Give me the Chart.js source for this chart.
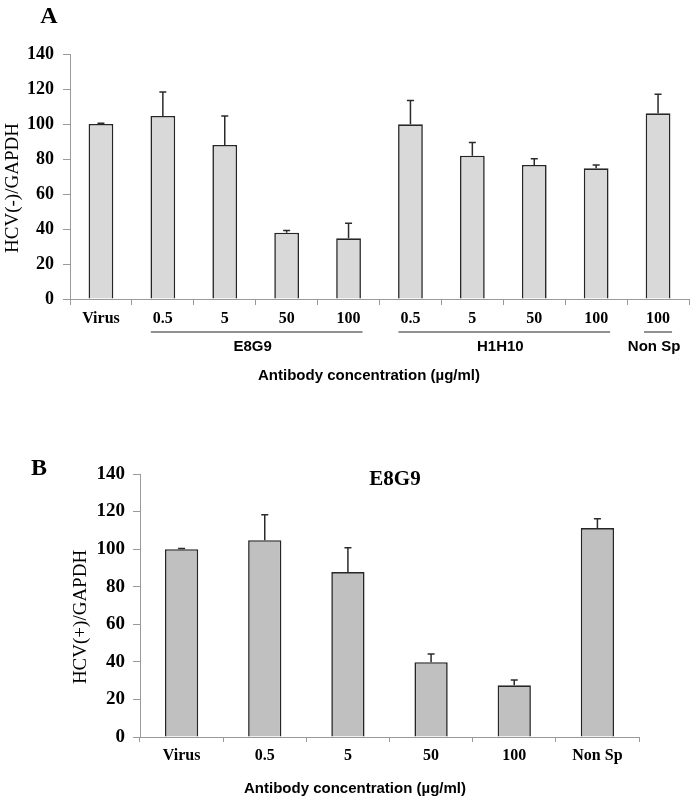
<!DOCTYPE html>
<html>
<head>
<meta charset="utf-8">
<script src="https://cdn.jsdelivr.net/npm/chart.js@4.4.0/dist/chart.umd.min.js"></script>
<style>
    body { margin: 0; background: #fff; }
    #wrap { position: relative; width: 694px; height: 802px; }
    canvas { position: absolute; left: 0; }
    #chartA { top: 0; }
    #chartB { top: 400px; }
</style>
</head>
<body>
<div id="wrap">
    <canvas id="chartA" width="694" height="400"></canvas>
    <canvas id="chartB" width="694" height="402"></canvas>
</div>
<script>
// Panel A: HCV(-)/GAPDH
const labelsA = ['Virus', '0.5', '5', '50', '100', '0.5', '5', '50', '100', '100'];
const valuesA = [100, 104.6, 88, 37.9, 34.7, 99.8, 81.9, 76.6, 74.7, 106.1];
const errorsA = [0.4, 13.7, 16.6, 1.2, 8.6, 13.7, 7.6, 3.6, 1.9, 10.9];
const groupNamesA = ['E8G9', 'H1H10', 'Non Sp'];
const groupStartA = [1, 5, 9];
const groupEndA = [4, 8, 9];

// Panel B: HCV(+)/GAPDH, E8G9 only
const labelsB = ['Virus', '0.5', '5', '50', '100', 'Non Sp'];
const valuesB = [100, 104.8, 87.8, 39.8, 27.5, 111.2];
const errorsB = [0.3, 13.5, 12.9, 4.4, 2.8, 5];

const yTicks = [0, 20, 40, 60, 80, 100, 120, 140];

const SERIF = '"Liberation Serif", "Times New Roman", serif';
const SANS = '"Liberation Sans", Arial, sans-serif';

// upward error bars with a cap
const errorBars = {
    id: 'errorBars',
    afterDatasetsDraw(chart) {
        const ctx = chart.ctx;
        const y = chart.scales.y;
        chart.data.datasets.forEach((ds, di) => {
            const meta = chart.getDatasetMeta(di);
            meta.data.forEach((bar, i) => {
                const top = y.getPixelForValue(ds.data[i]);
                const end = y.getPixelForValue(ds.data[i] + ds.errors[i]);
                ctx.save();
                ctx.strokeStyle = '#2b2b2b';
                ctx.lineWidth = 1.5;
                ctx.beginPath();
                ctx.moveTo(bar.x, top);
                ctx.lineTo(bar.x, end);
                ctx.moveTo(bar.x - 3.5, end);
                ctx.lineTo(bar.x + 3.5, end);
                ctx.stroke();
                ctx.restore();
            });
        });
    }
};

// panel letter, axis titles, group labels
const decor = {
    id: 'decor',
    afterDraw(chart, args, o) {
        const ctx = chart.ctx;
        const x = chart.scales.x;
        ctx.save();
        ctx.fillStyle = '#000';
        ctx.textAlign = 'center';
        ctx.textBaseline = 'middle';

        ctx.font = 'bold 24px ' + SERIF;
        ctx.fillText(o.letter, o.letterX, o.letterY);

        if (o.title) {
            ctx.font = 'bold 21px ' + SERIF;
            ctx.fillText(o.title, o.titleX, o.titleY);
        }

        ctx.save();
        ctx.translate(o.yTitleX, o.yTitleY);
        ctx.rotate(-Math.PI / 2);
        ctx.font = '19px ' + SERIF;
        ctx.fillText(o.yTitle, 0, 0);
        ctx.restore();

        ctx.font = 'bold 15px ' + SANS;
        ctx.fillText('Antibody concentration (\u00b5g/ml)', o.xTitleX, o.xTitleY);

        if (o.groups) {
            const labels = chart.data.labels;
            o.groups.names.forEach((name, g) => {
                const a = o.groups.start[g];
                const b = o.groups.end[g];
                ctx.font = 'bold 16px ' + SERIF;
                const x1 = x.getPixelForValue(a) - ctx.measureText(labels[a]).width / 2 - 2;
                const x2 = x.getPixelForValue(b) + ctx.measureText(labels[b]).width / 2 + 2;
                ctx.strokeStyle = '#222';
                ctx.lineWidth = 1;
                ctx.beginPath();
                ctx.moveTo(x1, o.groups.lineY);
                ctx.lineTo(x2, o.groups.lineY);
                ctx.stroke();
                ctx.font = 'bold 15px ' + SANS;
                ctx.fillText(name, (x1 + x2) / 2 - 4, o.groups.textY);
            });
        }
        ctx.restore();
    }
};

function makeChart(id, labels, values, errors, fill, dims, decorOpts) {
    return new Chart(document.getElementById(id), {
        type: 'bar',
        data: {
            labels: labels,
            datasets: [{
                data: values,
                errors: errors,
                backgroundColor: fill,
                borderColor: '#262626',
                borderWidth: 1.6,
                barPercentage: 0.4,
                categoryPercentage: 1
            }]
        },
        options: {
            responsive: false,
            animation: false,
            layout: { padding: { top: dims.top, right: dims.right, left: 0, bottom: 0 } },
            plugins: {
                legend: { display: false },
                tooltip: { enabled: false },
                decor: decorOpts
            },
            scales: {
                x: {
                    afterFit: s => { s.height = dims.xHeight; },
                    grid: { drawOnChartArea: false, tickLength: dims.xTick, color: '#9a9a9a' },
                    border: { color: '#9a9a9a', width: 1 },
                    ticks: {
                        padding: dims.xPad,
                        color: '#000',
                        font: { family: SERIF, size: 16, weight: 'bold' }
                    }
                },
                y: {
                    min: 0,
                    max: 140,
                    afterFit: s => { s.width = dims.yWidth; },
                    afterBuildTicks: s => { s.ticks = yTicks.map(v => ({ value: v })); },
                    grid: { drawOnChartArea: false, tickLength: 7, color: '#9a9a9a' },
                    border: { color: '#9a9a9a', width: 1 },
                    ticks: {
                        padding: dims.yPad,
                        color: '#000',
                        font: { family: SERIF, size: dims.yFont, weight: 'bold' }
                    }
                }
            }
        },
        plugins: [errorBars, decor]
    });
}

document.addEventListener('DOMContentLoaded', () => {
    makeChart('chartA', labelsA, valuesA, errorsA, '#d9d9d9',
        { top: 54, right: 5, xHeight: 101, yWidth: 70, xTick: 6, xPad: 4, yPad: 9, yFont: 18 },
        {
            letter: 'A', letterX: 49, letterY: 17,
            yTitle: 'HCV(-)/GAPDH', yTitleX: 13, yTitleY: 188,
            xTitleX: 369, xTitleY: 376,
            groups: { names: groupNamesA, start: groupStartA, end: groupEndA, lineY: 332, textY: 347 }
        });

    makeChart('chartB', labelsB, valuesB, errorsB, '#c0c0c0',
        { top: 74, right: 55, xHeight: 65, yWidth: 140, xTick: 5, xPad: 4, yPad: 8, yFont: 19 },
        {
            letter: 'B', letterX: 39, letterY: 69,
            title: 'E8G9', titleX: 395, titleY: 80,
            yTitle: 'HCV(+)/GAPDH', yTitleX: 81, yTitleY: 217,
            xTitleX: 355, xTitleY: 389
        });
});
</script>
</body>
</html>
